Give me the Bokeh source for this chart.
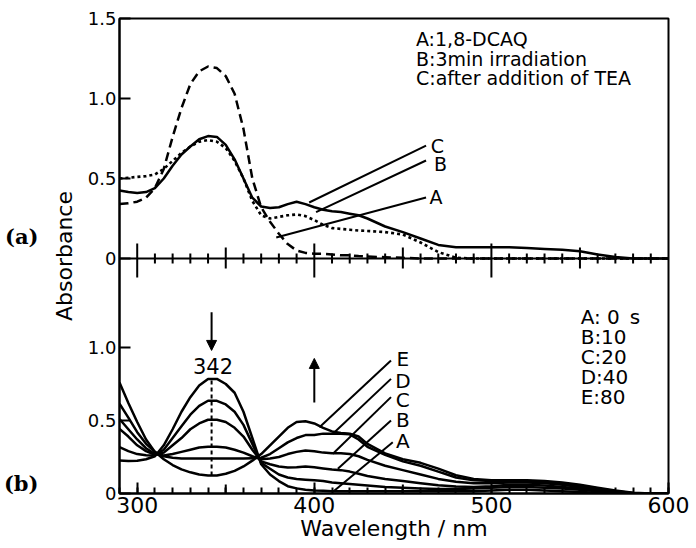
import numpy as np
from bokeh.plotting import figure
from bokeh.models import Range1d, LinearAxis, FixedTicker, Label, Arrow, NormalHead
from bokeh.embed import file_html
from bokeh.resources import INLINE

# ---------------- data ----------------
wavelength = [290, 295, 300, 305, 310, 315, 320, 325, 330, 335, 340, 345, 350, 355, 360,
              365, 370, 375, 380, 385, 390, 395, 400, 405, 410, 415, 420, 425, 430,
              440, 450, 460, 470, 480, 490, 500, 510, 520, 530, 540, 550, 560, 570,
              580, 590, 600]

# panel (a)
a_dcaq = [0.34, 0.345, 0.355, 0.38, 0.44, 0.56, 0.76, 0.94, 1.09, 1.17, 1.20, 1.19, 1.14, 1.03, 0.81,
          0.50, 0.32, 0.23, 0.155, 0.09, 0.05, 0.035, 0.03, 0.03, 0.025, 0.02, 0.02, 0.015, 0.012,
          0.008, 0.004, 0, 0, 0, 0, 0, 0, 0, 0, 0, 0, 0, 0, 0, 0, 0]
a_irrad = [0.50, 0.505, 0.51, 0.515, 0.525, 0.56, 0.61, 0.66, 0.70, 0.73, 0.74, 0.73, 0.69, 0.61, 0.50,
           0.36, 0.27, 0.25, 0.26, 0.27, 0.275, 0.265, 0.24, 0.21, 0.19, 0.185, 0.18, 0.175, 0.172,
           0.165, 0.15, 0.10, 0.04, 0.005, 0, 0, 0, 0, 0, 0, 0, 0, 0, 0, 0, 0]
a_tea = [0.425, 0.415, 0.41, 0.415, 0.44, 0.50, 0.58, 0.65, 0.70, 0.745, 0.765, 0.76, 0.71, 0.62, 0.50,
         0.38, 0.325, 0.315, 0.32, 0.34, 0.355, 0.34, 0.32, 0.305, 0.295, 0.29, 0.28, 0.27, 0.25,
         0.20, 0.165, 0.125, 0.085, 0.07, 0.07, 0.07, 0.07, 0.065, 0.06, 0.055, 0.045, 0.025, 0.01,
         0, 0, 0]

# panel (b)
b_0s = [0.226, 0.222, 0.225, 0.235, 0.255, 0.33, 0.44, 0.56, 0.66, 0.74, 0.785, 0.785, 0.75, 0.69, 0.56,
        0.38, 0.20, 0.13, 0.085, 0.05, 0.035, 0.025, 0.02, 0.018, 0.015, 0.015, 0.015, 0.015, 0.015,
        0.015, 0.015, 0.015, 0.015, 0.015, 0.015, 0.02, 0.025, 0.025, 0.02, 0.015, 0.01, 0.005, 0,
        0, 0, 0]
b_5s = [0.317, 0.29, 0.27, 0.262, 0.26, 0.30, 0.38, 0.46, 0.54, 0.60, 0.635, 0.635, 0.61, 0.56, 0.47,
        0.34, 0.21, 0.17, 0.13, 0.11, 0.10, 0.095, 0.09, 0.085, 0.075, 0.07, 0.065, 0.06, 0.055,
        0.045, 0.04, 0.035, 0.03, 0.03, 0.035, 0.04, 0.045, 0.045, 0.04, 0.035, 0.025, 0.015, 0.005,
        0, 0, 0]
b_10s = [0.443, 0.39, 0.33, 0.29, 0.265, 0.28, 0.33, 0.38, 0.44, 0.48, 0.505, 0.505, 0.49, 0.45, 0.39,
         0.30, 0.22, 0.20, 0.185, 0.178, 0.18, 0.185, 0.18, 0.172, 0.165, 0.16, 0.15, 0.135, 0.12,
         0.10, 0.085, 0.07, 0.057, 0.048, 0.045, 0.05, 0.06, 0.06, 0.055, 0.045, 0.035, 0.02, 0.008,
         0, 0, 0]
b_20s = [0.51, 0.44, 0.37, 0.31, 0.27, 0.26, 0.27, 0.285, 0.30, 0.315, 0.32, 0.32, 0.315, 0.30, 0.28,
         0.255, 0.235, 0.24, 0.25, 0.27, 0.285, 0.295, 0.29, 0.28, 0.275, 0.275, 0.27, 0.255, 0.23,
         0.19, 0.16, 0.13, 0.10, 0.08, 0.07, 0.07, 0.075, 0.075, 0.07, 0.06, 0.045, 0.03, 0.012,
         0, 0, 0]
b_40s = [0.615, 0.52, 0.42, 0.34, 0.285, 0.255, 0.245, 0.24, 0.24, 0.24, 0.24, 0.24, 0.24, 0.24, 0.24,
         0.242, 0.245, 0.27, 0.31, 0.35, 0.38, 0.40, 0.40, 0.41, 0.41, 0.41, 0.405, 0.37, 0.32,
         0.265, 0.22, 0.19, 0.15, 0.11, 0.09, 0.085, 0.085, 0.085, 0.08, 0.07, 0.055, 0.035, 0.015,
         0.003, 0, 0]
b_80s = [0.76, 0.62, 0.49, 0.37, 0.285, 0.235, 0.195, 0.165, 0.145, 0.13, 0.124, 0.124, 0.135, 0.155, 0.185,
         0.225, 0.27, 0.33, 0.39, 0.45, 0.49, 0.495, 0.48, 0.45, 0.425, 0.415, 0.41, 0.39, 0.34,
         0.275, 0.235, 0.21, 0.17, 0.125, 0.10, 0.09, 0.09, 0.09, 0.085, 0.075, 0.06, 0.04, 0.02,
         0.005, 0, 0]

peak_nm = 342
x_major = [300, 400, 500, 600]
x_mid = [350, 450, 550]
x_minor = list(range(290, 601, 10))
y_ticks_b = [0.0, 0.5, 1.0]
y_ticks_a = [0.0, 0.5, 1.0, 1.5]
legend_a = ["A:1,8-DCAQ", "B:3min irradiation", "C:after addition of TEA"]
legend_b = ["A: 0\u2002s", "B:10", "C:20", "D:40", "E:80"]
panel_tags = ["(a)", "(b)"]

# ---------------- layout constants ----------------
UP_START, UP_END = -235 / 160.0, 1.5
LOW_SPAN = 475 / 146.0
FONT = "DejaVu Sans"
LW = 2.5

def up_to_low(u):
    return round((u - UP_START) / (UP_END - UP_START) * LOW_SPAN, 6)

LOW_END = up_to_low(UP_END) + 1e-6

p = figure(width=690, height=546, x_range=Range1d(290, 600), y_range=Range1d(0, LOW_END),
           output_backend="svg", toolbar_location=None, x_axis_type=None, y_axis_type=None,
           min_border_left=118, min_border_right=22, min_border_top=18, min_border_bottom=53)
p.extra_y_ranges = {"upper": Range1d(UP_START, UP_END)}
p.outline_line_color = "black"
p.outline_line_width = 2
p.outline_line_alpha = 1
p.background_fill_color = "white"
p.border_fill_color = "white"

# bottom axis
xaxis = LinearAxis(ticker=FixedTicker(ticks=x_major, minor_ticks=x_minor),
                   axis_label="Wavelength / nm")
xaxis.major_tick_in = 11
xaxis.major_tick_out = 0
xaxis.minor_tick_in = 6
xaxis.minor_tick_out = 0
xaxis.major_tick_line_width = 2
xaxis.minor_tick_line_width = 2
xaxis.axis_line_width = 2
xaxis.major_label_standoff = 3
xaxis.major_label_text_font = FONT
xaxis.major_label_text_font_size = "22px"
xaxis.major_label_text_color = "black"
xaxis.axis_label_text_font = FONT
xaxis.axis_label_text_font_size = "22px"
xaxis.axis_label_text_font_style = "normal"
xaxis.axis_label_text_color = "black"
xaxis.axis_label_standoff = 0
p.add_layout(xaxis, "below")

# left axis: lower-panel ticks plus upper-panel ticks mapped into the same frame
ticks_left = [float(t) for t in y_ticks_b] + [up_to_low(u) for u in y_ticks_a]
labels_left = ["0", "0.5", "1.0"] + ["0", "0.5", "1.0", "1.5"]
overrides = {t: s for t, s in zip(ticks_left, labels_left)}
yaxis = LinearAxis(ticker=FixedTicker(ticks=ticks_left, minor_ticks=[]),
                   major_label_overrides=overrides, axis_label="Absorbance")
yaxis.major_tick_in = 11
yaxis.major_tick_out = 0
yaxis.major_tick_line_width = 2
yaxis.axis_line_width = 2
yaxis.major_label_standoff = 3
yaxis.major_label_text_font = FONT
yaxis.major_label_text_font_size = "18px"
yaxis.major_label_text_color = "black"
yaxis.axis_label_text_font = FONT
yaxis.axis_label_text_font_size = "22px"
yaxis.axis_label_text_font_style = "normal"
yaxis.axis_label_text_color = "black"
yaxis.axis_label_standoff = 8
p.add_layout(yaxis, "left")

# outer left axis that only carries the panel tags (a) and (b)
tag_pos = [round((493 - 236) / 146.0, 6), round((493 - 483) / 146.0, 6)]
tag_axis = LinearAxis(ticker=FixedTicker(ticks=tag_pos, minor_ticks=[]),
                      major_label_overrides={t: s for t, s in zip(tag_pos, panel_tags)})
tag_axis.axis_line_color = None
tag_axis.major_tick_line_color = None
tag_axis.major_tick_in = 0
tag_axis.major_tick_out = 0
tag_axis.major_label_standoff = 10
tag_axis.major_label_text_font = "DejaVu Serif"
tag_axis.major_label_text_font_style = "bold"
tag_axis.major_label_text_font_size = "21px"
tag_axis.major_label_text_color = "black"
p.add_layout(tag_axis, "left")

# middle axis separating the panels (drawn in the upper panel's scale)
p.segment(x0=[290], y0=[0], x1=[600], y1=[0], y_range_name="upper", line_color="black", line_width=2)
minor_only = [x for x in x_minor if x not in x_major and x not in x_mid and 290 < x < 600]
p.segment(x0=minor_only, y0=[-5 / 160] * len(minor_only), x1=minor_only, y1=[5 / 160] * len(minor_only),
          y_range_name="upper", line_color="black", line_width=2)
p.segment(x0=x_mid, y0=[-10 / 160] * len(x_mid), x1=x_mid, y1=[11 / 160] * len(x_mid),
          y_range_name="upper", line_color="black", line_width=2)
p.segment(x0=x_major[:3], y0=[-19 / 160] * 3, x1=x_major[:3], y1=[15 / 160] * 3,
          y_range_name="upper", line_color="black", line_width=2)
# mid ticks on bottom axis
p.segment(x0=x_mid, y0=[0] * len(x_mid), x1=x_mid, y1=[9 / 146] * len(x_mid),
          line_color="black", line_width=2)

# ---------------- panel (a) curves ----------------
p.line(wavelength, a_dcaq, y_range_name="upper", line_color="black", line_width=LW, line_dash="9 5")
p.line(wavelength, a_irrad, y_range_name="upper", line_color="black", line_width=2.6, line_dash="3 3")
p.line(wavelength, a_tea, y_range_name="upper", line_color="black", line_width=LW, line_join="round")

# ---------------- panel (b) curves ----------------
for series in [b_0s, b_5s, b_10s, b_20s, b_40s, b_80s]:
    p.line(wavelength, series, line_color="black", line_width=LW, line_join="round")

lo = float(np.interp(peak_nm, wavelength, b_80s))
hi = float(np.interp(peak_nm, wavelength, b_0s))
p.segment(x0=[peak_nm], y0=[lo], x1=[peak_nm], y1=[hi], line_color="black", line_width=2,
          line_dash="4 3")

# ---------------- annotations ----------------
def txt(x, y, s, size, rng="default", align="left"):
    p.add_layout(Label(x=x, y=y, text=s, y_range_name=rng, text_font=FONT, text_font_size=size,
                       text_align=align, text_baseline="middle", text_color="black"))

for s, y in zip(legend_a, [1.372, 1.247, 1.128]):
    txt(457.4, y, s, "19px", rng="upper")
for s, y in zip(legend_b, [1.212, 1.075, 0.938, 0.795, 0.664]):
    txt(550.4, y, s, "20px")

# leader lines panel (a)
lead_a = {"C": ((397.1, 0.35), (463.1, 0.706), (469.5, 0.703)),
          "B": ((401.0, 0.29), (463.1, 0.6125), (471.2, 0.59)),
          "A": ((378.5, 0.131), (463.1, 0.381), (468.7, 0.384))}
for k, (s0, s1, lp) in lead_a.items():
    p.segment(x0=[s0[0]], y0=[s0[1]], x1=[s1[0]], y1=[s1[1]], y_range_name="upper",
              line_color="black", line_width=2)
    txt(lp[0], lp[1], k, "19px", rng="upper", align="center")

# leader lines panel (b)
lead_b = {"E": ((402.9, 0.454), (443.3, 0.911), 0.921),
          "D": ((410.5, 0.409), (443.3, 0.785), 0.77),
          "C": ((410.5, 0.272), (443.3, 0.66), 0.64),
          "B": ((413.3, 0.169), (443.3, 0.50), 0.503),
          "A": ((411.4, 0.02), (444.3, 0.351), 0.363)}
for k, (s0, s1, ly) in lead_b.items():
    p.segment(x0=[s0[0]], y0=[s0[1]], x1=[s1[0]], y1=[s1[1]], line_color="black", line_width=2)
    txt(450, ly, k, "20px", align="center")

# 342 marker and arrows
txt(peak_nm + 0.8, 0.87, str(peak_nm), "21px", align="center")
p.add_layout(Arrow(end=NormalHead(size=10, fill_color="black", line_color="black"),
                   x_start=peak_nm, y_start=1.242, x_end=peak_nm, y_end=0.98,
                   line_color="black", line_width=2))
p.add_layout(Arrow(end=NormalHead(size=10, fill_color="black", line_color="black"),
                   x_start=400, y_start=0.623, x_end=400, y_end=0.925,
                   line_color="black", line_width=2))

open("out.html", "w").write(file_html(p, INLINE))
